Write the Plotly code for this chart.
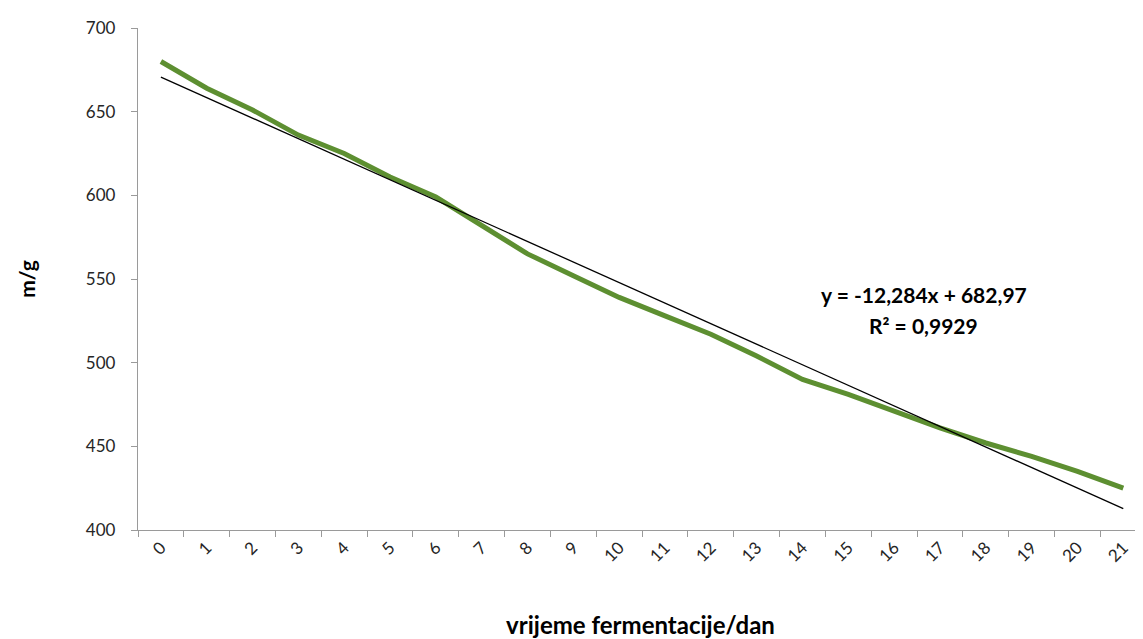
import plotly.graph_objects as go

days = [str(d) for d in range(22)]
mass = [680, 664, 651, 636, 625, 611, 599, 582, 565, 552, 539, 528,
        517, 504, 490, 481, 471, 461, 452, 444, 435, 425]
trend_slope = -12.284
trend_intercept = 682.97
eq_text = "y = -12,284x + 682,97"
r2_text = "R² = 0,9929"
y_ticks = [400, 450, 500, 550, 600, 650, 700]

trend = [trend_intercept + trend_slope * (i + 1) for i in range(len(days))]

fig = go.Figure()
fig.add_trace(go.Scatter(x=days, y=mass, mode="lines",
                         line=dict(color="#5d8f31", width=5), showlegend=False))
fig.add_trace(go.Scatter(x=days, y=trend, mode="lines",
                         line=dict(color="#000000", width=1.3), showlegend=False))

fig.add_annotation(x=16.65, y=540.5, xref="x", yref="y", text="<b>" + eq_text + "</b>",
                   showarrow=False, font=dict(size=21, color="#000000", family="Lato"))
fig.add_annotation(x=16.65, y=522, xref="x", yref="y", text="<b>" + r2_text + "</b>",
                   showarrow=False, font=dict(size=21, color="#000000", family="Lato"))

fig.update_layout(
    width=1135, height=631,
    margin=dict(l=130, r=0, t=20, b=109),
    paper_bgcolor="white", plot_bgcolor="white",
    font=dict(family="Lato", color="#000000"),
    xaxis=dict(
        type="category", tickson="boundaries", range=[-0.5, 21.43],
        automargin=False,
        showline=True, linecolor="#9a9a9a", linewidth=1.3,
        ticks="outside", ticklen=6, tickcolor="#9a9a9a", tickwidth=1.3,
        showgrid=False, zeroline=False, tickangle=-45,
        tickfont=dict(size=17, color="#262626", family="Lato"),
        title=dict(text="<b>vrijeme fermentacije/dan</b>", standoff=52,
                   font=dict(size=24, color="#000000", family="Lato")),
    ),
    yaxis=dict(
        range=[400, 700], tickvals=y_ticks, automargin=False,
        showline=True, linecolor="#9a9a9a", linewidth=1.3,
        ticks="outside", ticklen=6, tickcolor="#9a9a9a", tickwidth=1.3,
        ticklabelstandoff=12,
        showgrid=False, zeroline=False,
        tickfont=dict(size=17, color="#262626", family="Lato"),
        title=dict(text="<b>m/g</b>", standoff=44,
                   font=dict(size=21, color="#000000", family="Lato")),
    ),
)

fig.write_html("out.html")
